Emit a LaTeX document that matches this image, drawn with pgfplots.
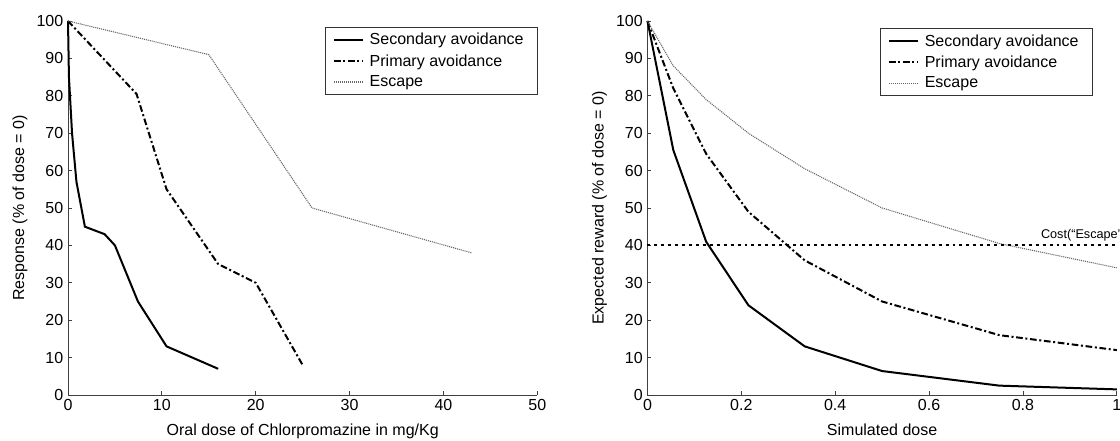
\documentclass[border=0pt]{standalone}
\usepackage{fontspec}
\setmainfont{Liberation Sans}
\usepackage{pgfplots}
\pgfplotsset{compat=1.18}

\pgfplotsset{
  panel/.style={
    scale only axis,
    width=352pt, height=280.5pt,
    anchor=south west,
    axis lines*=left,
    axis line style={-, black!75, line width=0.6pt},
    tick align=inside,
    major tick length=3pt,
    tick style={black!75, line width=0.6pt},
    ymin=0, ymax=100, ytick={0,10,...,100},
    font=\fontsize{12}{14}\selectfont,
    /pgf/number format/assume math mode=true,
    clip=false,
    xlabel style={yshift=-3pt},
    legend cell align=left,
    legend style={draw=black!80, line width=0.6pt, fill=white,
      font=\fontsize{12}{14}\selectfont, row sep=1.6pt,
      inner xsep=6pt, inner ysep=2.5pt,
      nodes={inner xsep=4pt}},
    legend image code/.code={\draw[##1] (0pt,0pt) -- (22pt,0pt);},
  },
  secondary/.style={black, line width=1.5pt},
  primary/.style={black, line width=1.5pt, dash pattern=on 5pt off 2pt on 1.5pt off 2pt},
  escape/.style={black!60, line width=0.8pt, dash pattern=on 0.8pt off 0.7pt},
}

\begin{document}
\begin{tikzpicture}
% left panel: measured responses
\begin{axis}[panel,
  at={(51pt,34.5pt)},
  xmin=0, xmax=50, xtick={0,10,...,50},
  xlabel={Oral dose of Chlorpromazine in mg/Kg},
  ylabel={Response (\% of dose = 0)},
  legend style={at={(1,0.984)}, anchor=north east}]
\addplot[secondary] coordinates {
  (0,100) (0.1,85) (0.43,70) (0.9,57) (1.8,45) (3.9,43) (5,40)
  (7.45,25) (10.5,13) (16,7)
};
\addlegendentry{Secondary avoidance}
\addplot[primary] coordinates {
  (0,100) (7.3,80.5) (10.5,55) (16,35) (20,30) (25,8)
};
\addlegendentry{Primary avoidance}
\addplot[escape] coordinates {
  (0,100) (15,91) (26,50) (43,38)
};
\addlegendentry{Escape}
\end{axis}

% right panel: simulated rewards
\begin{axis}[panel,
  at={(485.6pt,34.5pt)},
  xmin=0, xmax=1, xtick={0,0.2,...,1},
  xticklabels={0,0.2,0.4,0.6,0.8,1},
  xlabel={Simulated dose},
  ylabel={Expected reward (\% of dose = 0)},
  legend style={at={(0.948,0.981)}, anchor=north east}]
\addplot[secondary] coordinates {
  (0,100) (0.055,65.5) (0.125,41) (0.215,24) (0.335,13) (0.5,6.4)
  (0.75,2.5) (1,1.5)
};
\addlegendentry{Secondary avoidance}
\addplot[primary] coordinates {
  (0,100) (0.055,82) (0.125,64.5) (0.215,49) (0.335,36) (0.5,25)
  (0.75,16) (1,12)
};
\addlegendentry{Primary avoidance}
\addplot[escape] coordinates {
  (0,100) (0.055,88) (0.125,79) (0.215,70) (0.335,60.5) (0.5,50)
  (0.75,40.5) (1,34)
};
\addlegendentry{Escape}
\addplot[black, line width=1.6pt, dash pattern=on 2.2pt off 3pt, forget plot]
  coordinates {(0,40) (1,40)};
\node[anchor=south west, inner sep=0pt, font=\fontsize{9.5}{11}\selectfont]
  at (axis cs:0.838,41.2) {Cost(“Escape”)};
\end{axis}

\pgfresetboundingbox
\path[use as bounding box] (0,0) rectangle (840pt,330.75pt);
\end{tikzpicture}
\end{document}
